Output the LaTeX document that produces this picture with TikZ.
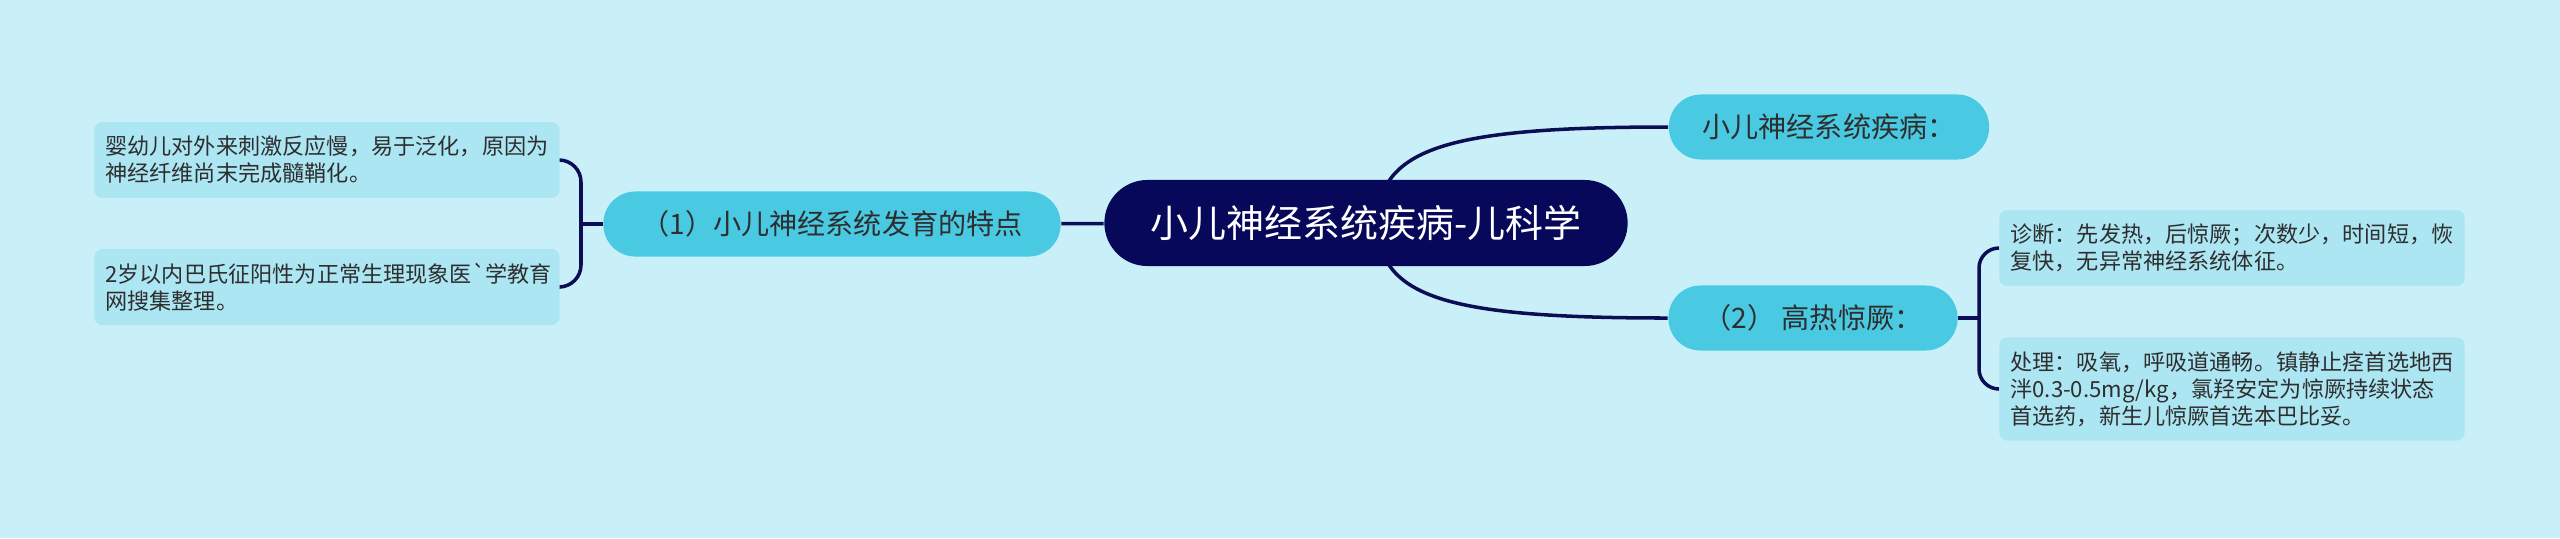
\documentclass[tikz,border=0pt]{standalone}
\usepackage{fontspec}
\setmainfont{Noto Sans CJK SC}
\usepackage{tikz}
\definecolor{bgc}{HTML}{C9F0F8}
\definecolor{rootc}{HTML}{07085A}
\definecolor{linec}{HTML}{0C0E55}
\definecolor{topicc}{HTML}{4AC9E3}
\definecolor{leafc}{HTML}{ADE6F3}
\definecolor{textc}{HTML}{2E2E2E}
\pgfdeclarelayer{bg}
\pgfsetlayers{bg,main}

\begin{document}
\begin{tikzpicture}[x=0.01cm, y=-0.01cm,
  root/.style={rounded corners=0.43cm, fill=rootc, text=white, font=\fontsize{10.8}{13}\selectfont, minimum width=5.23cm, minimum height=0.86cm, inner sep=0pt},
  topic/.style={rounded corners=0.32cm, fill=topicc, text=textc, font=\fontsize{8}{10}\selectfont, minimum height=0.65cm, inner sep=0pt},
  leaf/.style={rounded corners=0.08cm, fill=leafc, text=textc, font=\fontsize{6.3}{7.7}\selectfont, align=left, text width=4.43cm, inner xsep=0.11cm, inner ysep=0.14cm},
  link/.style={draw=linec, line width=1pt}]
  \useasboundingbox (0,0) rectangle (2560,538);
  \node[root] (root) at (1366,223) {小儿神经系统疾病-儿科学};
  \node[topic, minimum width=4.57cm] (dev) at (832,224) {（1）小儿神经系统发育的特点};
  \node[topic, minimum width=3.2cm] (dis) at (1829,127) {小儿神经系统疾病：};
  \node[topic, minimum width=2.89cm] (fev) at (1813,318) {（2） 高热惊厥：};
  \node[leaf] (dev1) at (327,160) {婴幼儿对外来刺激反应慢，易于泛化，原因为\\神经纤维尚末完成髓鞘化。};
  \node[leaf] (dev2) at (327,287) {2岁以内巴氏征阳性为正常生理现象医\textasciigrave 学教育\\网搜集整理。};
  \node[leaf] (fev1) at (2232,248) {诊断：先发热，后惊厥；次数少，时间短，恢\\复快，无异常神经系统体征。};
  \node[leaf] (fev2) at (2232,389) {处理：吸氧，呼吸道通畅。镇静止痉首选地西\\泮0.3-0.5mg/kg，氯羟安定为惊厥持续状态\\首选药，新生儿惊厥首选本巴比妥。};
  \coordinate (rk) at (1376,223);
  \coordinate (kd) at (581,224);
  \coordinate (kf) at (1979,318);
  \begin{pgfonlayer}{bg}
    \fill[bgc] (0,0) rectangle (2560,538);
    \draw[link] (root) -- (dev);
    \draw[link] (rk) .. controls (1381,150) and (1440,127) .. (dis.west);
    \draw[link] (rk) .. controls (1381,296) and (1440,318) .. (fev.west);
    \draw[link] (dev) -- (kd);
    \draw[link, rounded corners=0.22cm] (dev1.east) -| (kd) |- (dev2.east);
    \draw[link] (fev) -- (kf);
    \draw[link, rounded corners=0.2cm] (fev1.west) -| (kf) |- (fev2.west);
  \end{pgfonlayer}
\end{tikzpicture}
\end{document}
